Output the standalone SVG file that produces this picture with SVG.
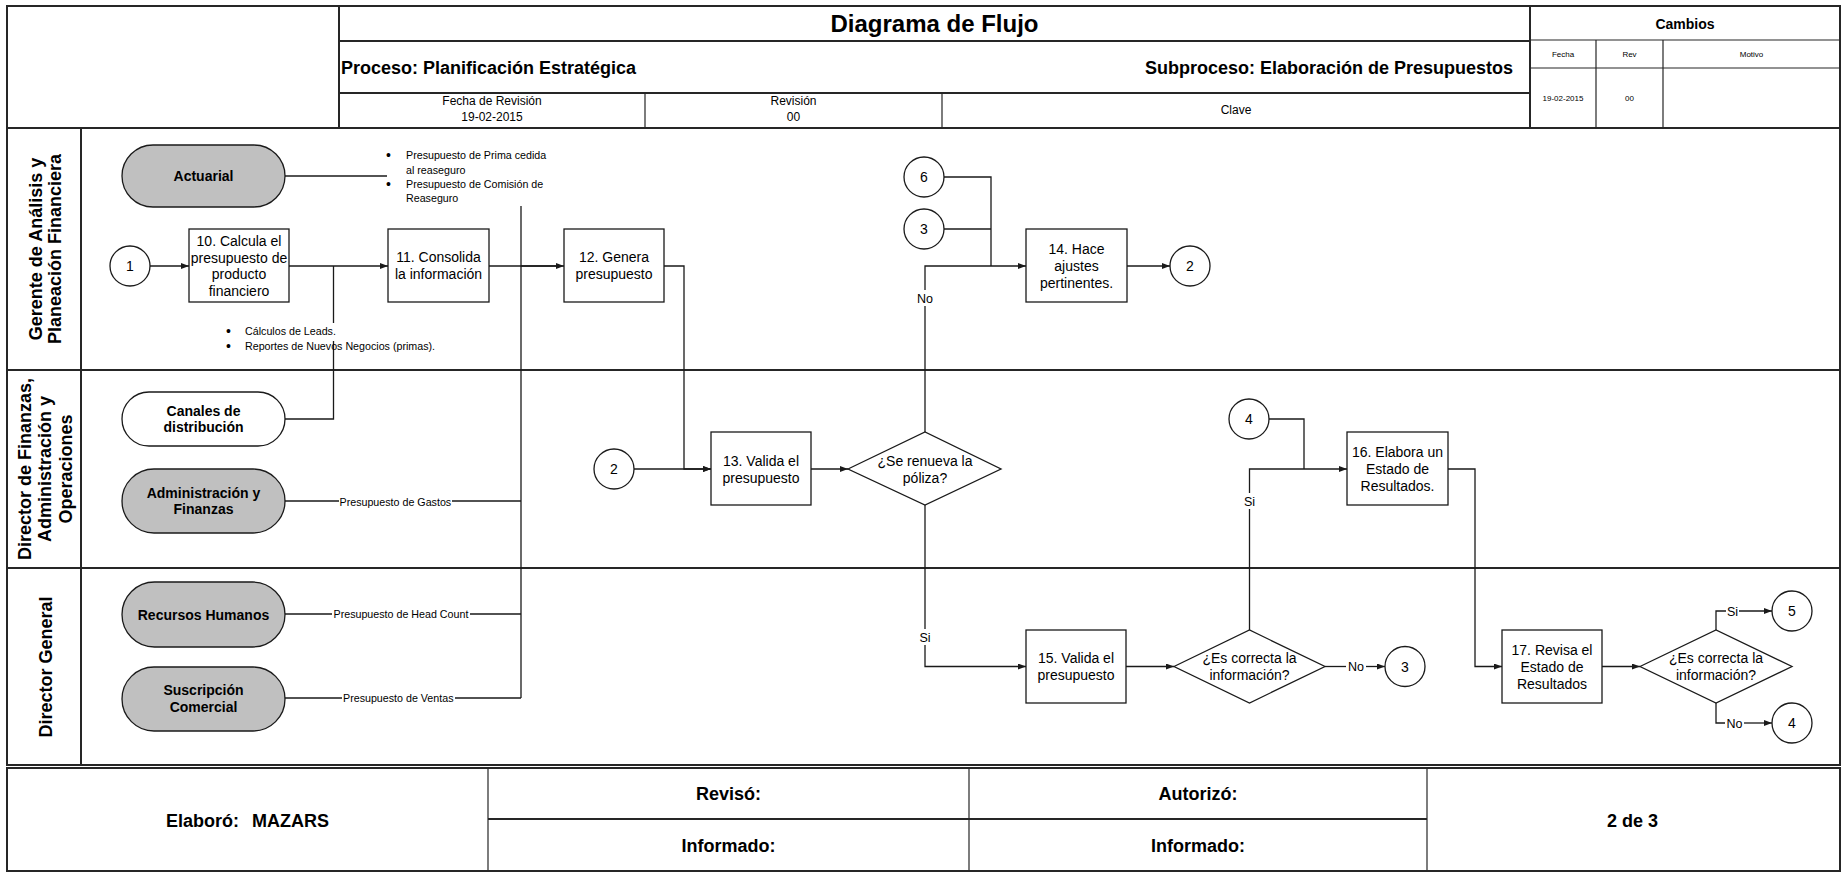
<svg xmlns="http://www.w3.org/2000/svg" width="1842" height="874" viewBox="0 0 1842 874">
<style>
text{font-family:"Liberation Sans",Arial,Helvetica,sans-serif;fill:#000}
.grid{fill:none;stroke:#262626;stroke-width:2}
.gthin{fill:none;stroke:#262626;stroke-width:1.2}
.box{fill:#fff;stroke:#1a1a1a;stroke-width:1.3}
.term{fill:#c0c0c0;stroke:#1a1a1a;stroke-width:1.3}
.termw{fill:#fff;stroke:#1a1a1a;stroke-width:1.3}
.conn{fill:none;stroke:#1a1a1a;stroke-width:1.3}
.arr{marker-end:url(#ah)}
.node{font-size:14px;text-anchor:middle}
.tb{font-size:14px;font-weight:bold;text-anchor:middle}
.lane{font-size:18px;font-weight:bold;text-anchor:middle}
.note{font-size:10.7px}
.bul{font-size:14px}
.lbl{font-size:12.5px;text-anchor:middle}
.hb{font-weight:bold}
.mid{text-anchor:middle}
</style>
<defs>
<marker id="ah" markerWidth="8" markerHeight="6" refX="8" refY="3" orient="auto" markerUnits="userSpaceOnUse">
<path d="M0,0 L8,3 L0,6 z" fill="#1a1a1a"/>
</marker>
</defs>
<rect x="0" y="0" width="1842" height="874" fill="#fff"/>

<!-- header block -->
<g id="header">
<rect class="grid" x="7" y="6" width="1833" height="759"/>
<line class="grid" x1="7" y1="128" x2="1840" y2="128"/>
<line class="grid" x1="339" y1="6" x2="339" y2="128"/>
<line class="grid" x1="339" y1="41" x2="1530" y2="41"/>
<line class="grid" x1="339" y1="93" x2="1530" y2="93"/>
<line class="gthin" x1="645" y1="93" x2="645" y2="128"/>
<line class="gthin" x1="942" y1="93" x2="942" y2="128"/>
<line class="grid" x1="1530" y1="6" x2="1530" y2="128"/>
<line class="gthin" x1="1530" y1="40" x2="1840" y2="40"/>
<line class="gthin" x1="1530" y1="68" x2="1840" y2="68"/>
<line class="gthin" x1="1596" y1="40" x2="1596" y2="128"/>
<line class="gthin" x1="1663" y1="40" x2="1663" y2="128"/>
<text class="hb mid" x="934.5" y="32" font-size="24">Diagrama de Flujo</text>
<text class="hb" x="341" y="73.5" font-size="18">Proceso: Planificación Estratégica</text>
<text class="hb" x="1513" y="73.5" font-size="18" text-anchor="end">Subproceso: Elaboración de Presupuestos</text>
<text class="mid" x="492" y="105.3" font-size="12">Fecha de Revisión</text>
<text class="mid" x="492" y="121.3" font-size="12">19-02-2015</text>
<text class="mid" x="793.5" y="105.3" font-size="12">Revisión</text>
<text class="mid" x="793.5" y="121.3" font-size="12">00</text>
<text class="mid" x="1236" y="114.3" font-size="12">Clave</text>
<text class="hb mid" x="1685" y="29" font-size="14">Cambios</text>
<text class="mid" x="1563" y="56.5" font-size="8">Fecha</text>
<text class="mid" x="1629.5" y="56.5" font-size="8">Rev</text>
<text class="mid" x="1751.5" y="56.5" font-size="8">Motivo</text>
<text class="mid" x="1563" y="100.8" font-size="8">19-02-2015</text>
<text class="mid" x="1629.5" y="100.8" font-size="8">00</text>
</g>

<!-- swimlanes -->
<g id="lanes">
<line class="grid" x1="81" y1="128" x2="81" y2="765"/>
<line class="grid" x1="7" y1="370" x2="1840" y2="370"/>
<line class="grid" x1="7" y1="568" x2="1840" y2="568"/>
<text class="lane" transform="translate(41.5,249) rotate(-90)">Gerente de Análisis y</text>
<text class="lane" transform="translate(61,249) rotate(-90)">Planeación Financiera</text>
<text class="lane" transform="translate(30.5,469) rotate(-90)">Director de Finanzas,</text>
<text class="lane" transform="translate(51,469) rotate(-90)">Administración y</text>
<text class="lane" transform="translate(71.5,469) rotate(-90)">Operaciones</text>
<text class="lane" transform="translate(51.5,667) rotate(-90)">Director General</text>
</g>

<!-- connectors -->
<g id="connectors">
<path class="conn arr" d="M150,266 H189"/>
<path class="conn arr" d="M289,266 H388"/>
<path class="conn" d="M285,419 H333.5 V341 M333.5,323 V266"/>
<path class="conn arr" d="M489,266 H564"/>
<path class="conn" d="M521,266 H560" stroke-width="2"/>
<path class="conn" d="M285,176 H387"/>
<path class="conn" d="M521,206 V698"/>
<path class="conn" d="M285,501 H339 M452,501 H521"/>
<path class="conn" d="M285,614 H332 M470,614 H521"/>
<path class="conn" d="M285,698 H342 M455,698 H521"/>
<path class="conn arr" d="M664,266 H684 V469 H711"/>
<path class="conn arr" d="M634,469 H711"/>
<path class="conn arr" d="M811,469 H848"/>
<path class="conn" d="M925,432 V306"/>
<path class="conn arr" d="M925,290 V266 H1026"/>
<path class="conn" d="M944,177 H991 V266"/>
<path class="conn" d="M944,229 H991"/>
<path class="conn arr" d="M1127,266 H1170"/>
<path class="conn" d="M925,505 V629"/>
<path class="conn arr" d="M925,645 V666.5 H1026"/>
<path class="conn arr" d="M1126,666.5 H1174"/>
<path class="conn" d="M1325,666.5 H1346"/>
<path class="conn arr" d="M1366,666.5 H1385"/>
<path class="conn" d="M1249.5,631 V509"/>
<path class="conn arr" d="M1249.5,493 V469 H1347"/>
<path class="conn" d="M1269,419 H1304 V469"/>
<path class="conn arr" d="M1448,469 H1475 V666.5 H1502"/>
<path class="conn arr" d="M1602,666.5 H1640"/>
<path class="conn" d="M1716,630 V611 H1726"/>
<path class="conn arr" d="M1739,611 H1772"/>
<path class="conn" d="M1716,703 V723 H1725"/>
<path class="conn arr" d="M1744,723 H1772"/>
<text class="lbl" x="925" y="302.5">No</text>
<text class="lbl" x="925" y="641.5">Si</text>
<text class="lbl" x="1249.5" y="505.5">Si</text>
<text class="lbl" x="1356" y="671">No</text>
<text class="lbl" x="1732.5" y="615.5">Si</text>
<text class="lbl" x="1734.5" y="727.5">No</text>
<text class="note" x="339.5" y="505.5">Presupuesto de Gastos</text>
<text class="note" x="333.5" y="617.5">Presupuesto de Head Count</text>
<text class="note" x="343" y="702">Presupuesto de Ventas</text>
</g>

<!-- notes attached to the flows -->
<g id="note-reaseguro">
<text class="bul" x="386" y="160">•</text>
<text class="note" x="406" y="159">Presupuesto de Prima cedida</text>
<text class="note" x="406" y="173.5">al reaseguro</text>
<text class="bul" x="386" y="189">•</text>
<text class="note" x="406" y="188">Presupuesto de Comisión de</text>
<text class="note" x="406" y="202">Reaseguro</text>
</g>
<g id="note-leads">
<text class="bul" x="226" y="336">•</text>
<text class="note" x="245" y="335">Cálculos de Leads.</text>
<text class="bul" x="226" y="351">•</text>
<text class="note" x="245" y="350">Reportes de Nuevos Negocios (primas).</text>
</g>

<!-- terminators -->
<g id="actuarial"><rect class="term" x="122" y="145" width="163" height="62" rx="31"/><text class="tb" x="203.5" y="181">Actuarial</text></g>
<g id="canales"><rect class="termw" x="122" y="392" width="163" height="54" rx="27"/><text class="tb" x="203.5" y="415.5">Canales de</text><text class="tb" x="203.5" y="431.5">distribución</text></g>
<g id="administracion"><rect class="term" x="122" y="469" width="163" height="64" rx="32"/><text class="tb" x="203.5" y="497.5">Administración y</text><text class="tb" x="203.5" y="514">Finanzas</text></g>
<g id="recursos-humanos"><rect class="term" x="122" y="582" width="163" height="65" rx="32.5"/><text class="tb" x="203.5" y="619.5">Recursos Humanos</text></g>
<g id="suscripcion"><rect class="term" x="122" y="667" width="163" height="64" rx="32"/><text class="tb" x="203.5" y="695">Suscripción</text><text class="tb" x="203.5" y="711.5">Comercial</text></g>

<!-- connectors to/from other pages -->
<g id="c1"><circle class="box" cx="130" cy="266" r="20"/><text class="node" x="130" y="271">1</text></g>
<g id="c2-in"><circle class="box" cx="614" cy="469" r="20"/><text class="node" x="614" y="474">2</text></g>
<g id="c6"><circle class="box" cx="924" cy="177" r="20"/><text class="node" x="924" y="182">6</text></g>
<g id="c3-in"><circle class="box" cx="924" cy="229" r="20"/><text class="node" x="924" y="234">3</text></g>
<g id="c2-out"><circle class="box" cx="1190" cy="266" r="20"/><text class="node" x="1190" y="271">2</text></g>
<g id="c4-in"><circle class="box" cx="1249" cy="419" r="20"/><text class="node" x="1249" y="424">4</text></g>
<g id="c3-out"><circle class="box" cx="1405" cy="666.5" r="20"/><text class="node" x="1405" y="671.5">3</text></g>
<g id="c5"><circle class="box" cx="1792" cy="611" r="20"/><text class="node" x="1792" y="616">5</text></g>
<g id="c4-out"><circle class="box" cx="1792" cy="723" r="20"/><text class="node" x="1792" y="728">4</text></g>

<!-- process steps -->
<g id="step10"><rect class="box" x="189" y="229" width="100" height="73"/><text class="node" x="239" y="245.8">10. Calcula el</text><text class="node" x="239" y="262.6">presupuesto de</text><text class="node" x="239" y="279.4">producto</text><text class="node" x="239" y="296.2">financiero</text></g>
<g id="step11"><rect class="box" x="388" y="229" width="101" height="73"/><text class="node" x="438.5" y="262">11. Consolida</text><text class="node" x="438.5" y="279">la información</text></g>
<g id="step12"><rect class="box" x="564" y="229" width="100" height="73"/><text class="node" x="614" y="262">12. Genera</text><text class="node" x="614" y="279">presupuesto</text></g>
<g id="step14"><rect class="box" x="1026" y="229" width="101" height="73"/><text class="node" x="1076.5" y="254">14. Hace</text><text class="node" x="1076.5" y="271">ajustes</text><text class="node" x="1076.5" y="288">pertinentes.</text></g>
<g id="step13"><rect class="box" x="711" y="432" width="100" height="73"/><text class="node" x="761" y="465.5">13. Valida el</text><text class="node" x="761" y="482.5">presupuesto</text></g>
<g id="dec-renueva"><path class="box" d="M848,469 L925,432 L1001,469 L925,505 Z"/><text class="node" x="925" y="465.5">¿Se renueva la</text><text class="node" x="925" y="482.5">póliza?</text></g>
<g id="step16"><rect class="box" x="1347" y="432" width="101" height="73"/><text class="node" x="1397.5" y="457">16. Elabora un</text><text class="node" x="1397.5" y="474">Estado de</text><text class="node" x="1397.5" y="491">Resultados.</text></g>
<g id="step15"><rect class="box" x="1026" y="630" width="100" height="73"/><text class="node" x="1076" y="663">15. Valida el</text><text class="node" x="1076" y="680">presupuesto</text></g>
<g id="dec-correcta-1"><path class="box" d="M1174,666.5 L1249.5,630 L1325,666.5 L1249.5,703 Z"/><text class="node" x="1249.5" y="663">¿Es correcta la</text><text class="node" x="1249.5" y="680">información?</text></g>
<g id="step17"><rect class="box" x="1502" y="630" width="100" height="73"/><text class="node" x="1552" y="654.5">17. Revisa el</text><text class="node" x="1552" y="671.5">Estado de</text><text class="node" x="1552" y="688.5">Resultados</text></g>
<g id="dec-correcta-2"><path class="box" d="M1640,666.5 L1716,630 L1792,666.5 L1716,703 Z"/><text class="node" x="1716" y="663">¿Es correcta la</text><text class="node" x="1716" y="680">información?</text></g>

<!-- sign-off footer -->
<g id="footer">
<rect class="grid" x="7" y="768" width="1833" height="103"/>
<line class="gthin" x1="488" y1="768" x2="488" y2="871"/>
<line class="gthin" x1="969" y1="768" x2="969" y2="871"/>
<line class="gthin" x1="1427" y1="768" x2="1427" y2="871"/>
<line class="grid" x1="488" y1="819" x2="1427" y2="819"/>
<text class="hb" x="166" y="826.5" font-size="18">Elaboró: <tspan dx="8">MAZARS</tspan></text>
<text class="hb mid" x="728.5" y="800" font-size="18">Revisó:</text>
<text class="hb mid" x="728.5" y="852" font-size="18">Informado:</text>
<text class="hb mid" x="1198" y="800" font-size="18">Autorizó:</text>
<text class="hb mid" x="1198" y="852" font-size="18">Informado:</text>
<text class="hb mid" x="1632.5" y="826.5" font-size="18">2 de 3</text>
</g>
</svg>
